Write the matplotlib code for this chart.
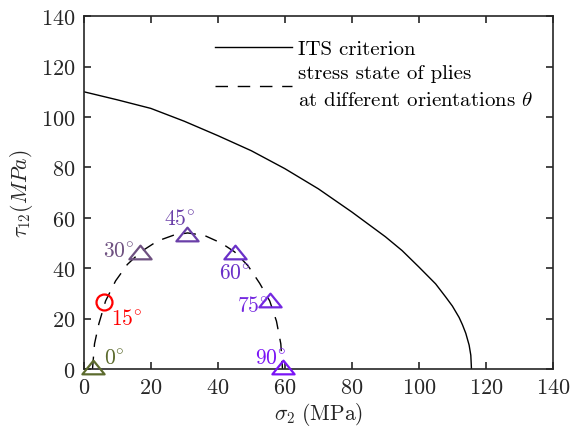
import matplotlib
matplotlib.use("Agg")
import matplotlib.pyplot as plt
from matplotlib.path import Path

plt.rcParams['mathtext.fontset'] = 'cm'
plt.rcParams['font.family'] = 'serif'
plt.rcParams['font.serif'] = ['cmr10', 'DejaVu Serif']
plt.rcParams['axes.unicode_minus'] = False
plt.rcParams['axes.formatter.use_mathtext'] = True

# ITS criterion envelope
its_sigma = [0, 10, 20, 30, 40, 50, 60, 70, 80, 90, 95, 100, 105, 108, 110, 112, 113, 114, 115, 115.5, 115.7]
its_tau = [110, 106.8, 103.4, 98.3, 92.6, 86.6, 79.5, 71.5, 62.3, 52.5, 47, 40.5, 33.8, 28.6, 25, 20.5, 17.6, 14.2, 9.5, 5.5, 0]

# stress state path of plies
path_sigma = [2.6, 3.2, 4.5, 6.5, 9.5, 13, 17, 22, 27, 31, 36, 41, 45, 49, 52.5, 55.5, 57.5, 58.8, 59.3]
path_tau = [0, 10, 18, 27, 35, 41.5, 46.5, 50.8, 53.2, 54, 53, 50, 46.5, 41, 34, 27, 19, 10, 0]

# ply orientations
angles = ['0', '15', '30', '45', '60', '75', '90']
ply_sigma = [2.6, 5.9, 16.8, 30.9, 45.1, 55.6, 59.5]
ply_tau = [0.8, 26.7, 46.5, 53.7, 46.5, 27.4, 0.8]
ply_colors = ['#5c6b2e', '#ff0000', '#6e5080', '#6a3fa8', '#6a30c8', '#7428e0', '#7a14f5']
ply_markers = ['tri', 'o', 'tri', 'tri', 'tri', 'tri', 'tri']
label_sigma = [6.0, 8.0, 5.8, 23.8, 40.3, 45.6, 51.2]
label_tau = [4.4, 20.2, 46.6, 60.0, 38.0, 25.6, 4.4]

tri = Path([(0, 0.8), (-1.3, -0.8), (1.3, -0.8), (0, 0.8)],
           [Path.MOVETO, Path.LINETO, Path.LINETO, Path.CLOSEPOLY])

fig = plt.figure(figsize=(5.7, 4.39), dpi=100)
ax = fig.add_axes([0.147, 0.157, 0.823, 0.804])

ax.plot(its_sigma, its_tau, color='black', lw=1.0, label='ITS criterion')
ax.plot(path_sigma, path_tau, color='black', lw=1.0, dashes=(9, 7),
        label='stress state of plies\nat different orientations $\\theta$')

for s, t, c, m in zip(ply_sigma, ply_tau, ply_colors, ply_markers):
    if m == 'tri':
        ax.plot(s, t, marker=tri, ms=16, mfc='none', mec=c, mew=1.6, ls='none', clip_on=False, zorder=5)
    else:
        ax.plot(s, t, marker='o', ms=11.5, mfc='none', mec=c, mew=1.6, ls='none', clip_on=False, zorder=5)

for a, s, t, c in zip(angles, label_sigma, label_tau, ply_colors):
    ax.text(s, t, '$%s^{\\circ}$' % a, color=c, fontsize=15.5, ha='left', va='center')

ax.set_xlim(0, 140)
ax.set_ylim(0, 140)
ax.set_xticks(range(0, 141, 20))
ax.set_yticks(range(0, 141, 20))
for sp in ax.spines.values():
    sp.set_linewidth(1.2)
    sp.set_color('#262626')
ax.tick_params(direction='in', length=5, width=1.2, top=True, right=True,
               labelsize=16, colors='#262626', pad=6)
ax.set_xlabel('$\\sigma_2\\ \\mathrm{(MPa)}$', fontsize=15.5, color='#262626', labelpad=2)
ax.set_ylabel('$\\tau_{12}(MPa)$', fontsize=15.5, color='#262626', labelpad=4)

leg = ax.legend(loc='upper left', bbox_to_anchor=(0.279, 0.934), frameon=False,
                fontsize=15, handlelength=3.7, handletextpad=0.3, labelspacing=0.3,
                borderaxespad=0.0, borderpad=0.0)
for t in leg.get_texts():
    t.set_linespacing(1.6)

fig.savefig('out.png', dpi=100)
